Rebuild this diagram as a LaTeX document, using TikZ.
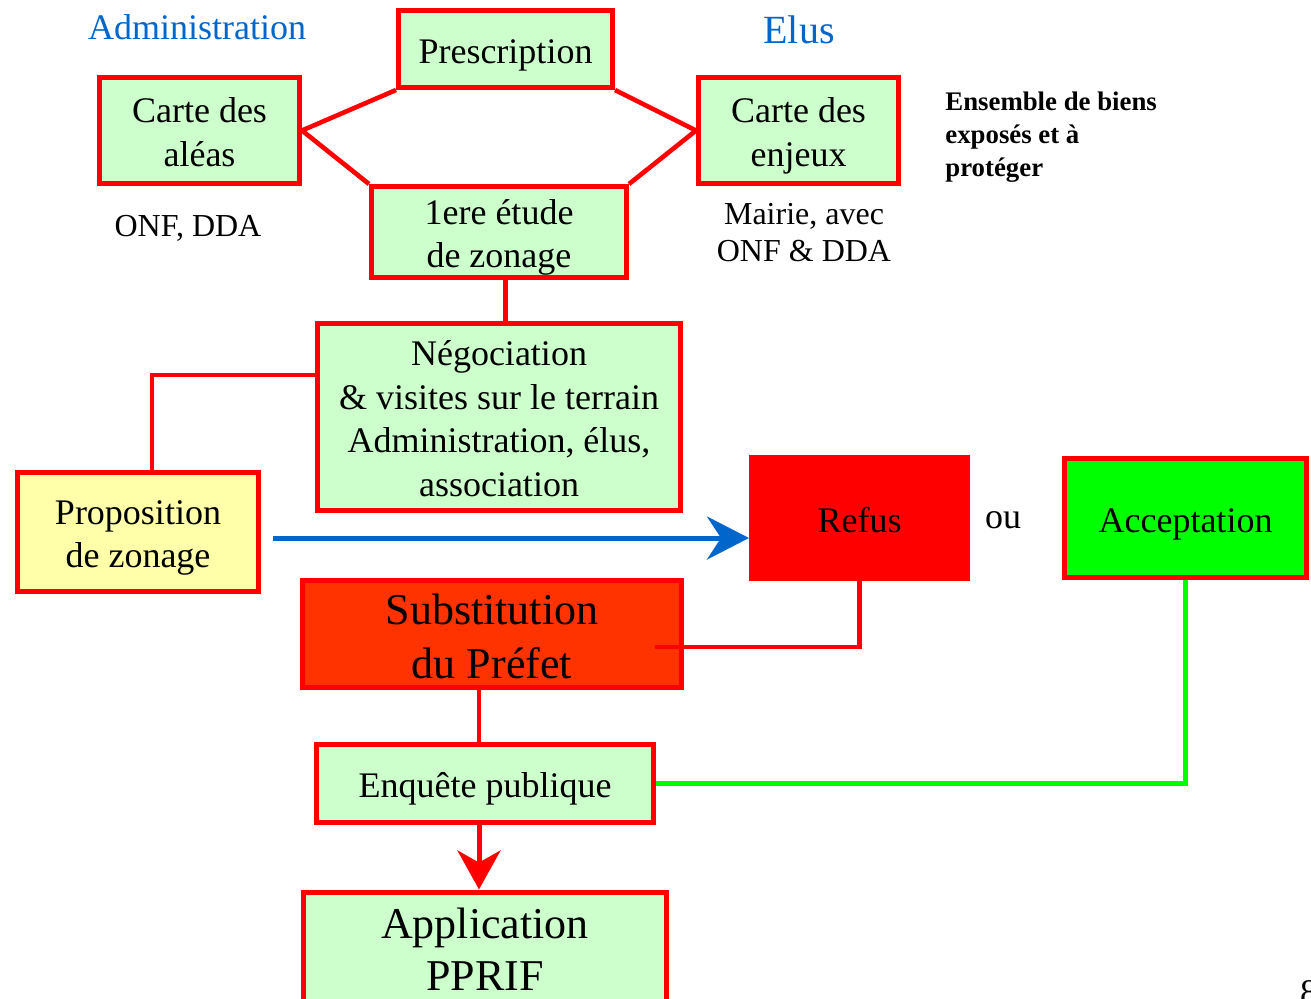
\documentclass[tikz,border=0pt]{standalone}
\usepackage{fontspec}
\setmainfont{Liberation Serif}
\usetikzlibrary{arrows.meta}
\definecolor{boxgreen}{HTML}{CCFFCC}
\definecolor{boxyellow}{HTML}{FFFFAA}
\definecolor{substred}{HTML}{FF3300}
\definecolor{accgreen}{HTML}{00FF00}
\definecolor{titleblue}{HTML}{0066CC}
\newcommand\boxstrut{\rule[-0.22em]{0pt}{1.22em}}
\tikzset{
  box/.style={draw=red, line width=2.5pt, fill=boxgreen, text=black, align=center,
    inner sep=0pt, font=\fontsize{18}{21.85}\selectfont,
    execute at end node=\boxstrut},
  conn/.style={draw=red, line width=2.3pt},
  greenconn/.style={draw=accgreen, line width=2.3pt},
  bluearrow/.style={draw=titleblue, line width=2.5pt,
    -{Stealth[length=21pt,width=21.5pt,inset=7pt]}},
  redarrow/.style={draw=red, line width=2.5pt,
    -{Stealth[length=19.5pt,width=21.5pt,inset=6pt]}},
  lbl/.style={align=center, inner sep=0pt, font=\fontsize{16}{18.5}\selectfont},
}
\begin{document}
\begin{tikzpicture}[x=0.5pt, y=-0.5pt]
\useasboundingbox (0,0) rectangle (1311,998);

% headings
\node[text=titleblue, inner sep=0pt, font=\fontsize{18}{21}\selectfont] (hadm) at (197,27) {Administration};
\node[text=titleblue, inner sep=0pt, font=\fontsize{20}{24}\selectfont] (helus) at (799,30) {Elus};

% boxes
\node[box, minimum width=107pt, minimum height=38.5pt] (presc) at (505.5,49) {\boxstrut Prescription};
\node[box, minimum width=100pt, minimum height=53pt] (aleas) at (199.5,130.5) {\boxstrut Carte des\\aléas};
\node[box, minimum width=100pt, minimum height=53pt] (enjeux) at (798.5,130.5) {\boxstrut Carte des\\enjeux};
\node[box, minimum width=127.5pt, minimum height=45.5pt] (etude) at (499,232) {\boxstrut 1ere étude\\de zonage};
\node[box, minimum width=181.5pt, minimum height=93.5pt] (nego) at (499,417) {\boxstrut Négociation\\\& visites sur le terrain\\Administration, élus,\\association};
\node[box, fill=boxyellow, minimum width=120.5pt, minimum height=59.5pt] (prop) at (138,532) {\boxstrut Proposition\\de zonage};
\node[box, fill=red, minimum width=108pt, minimum height=60.5pt] (refus) at (859.5,518) {\boxstrut Refus};
\node[box, fill=accgreen, minimum width=121pt, minimum height=59.5pt] (accept) at (1185.5,518) {\boxstrut Acceptation};
\node[box, fill=substred, minimum width=189.5pt, minimum height=53pt,
      font=\fontsize{22}{27}\selectfont] (subst) at (492,634) {\boxstrut Substitution\\du Préfet};
\node[box, minimum width=168.5pt, minimum height=39pt] (enq) at (485,783.5) {\boxstrut Enquête publique};
\node[box, minimum width=181.5pt, minimum height=55pt,
      font=\fontsize{22}{26}\selectfont] (appl) at (485,947) {\boxstrut Application\\PPRIF};

% side labels
\node[lbl] (onf) at (188,228) {ONF, DDA};
\node[lbl] (mairie) at (804,233) {Mairie, avec\\ONF \& DDA};
\node[anchor=north west, align=left, inner sep=0pt,
      font=\bfseries\fontsize{13.4}{16.5}\selectfont] (ens) at (945,91)
      {Ensemble de biens\\exposés et à\\protéger};
\node[inner sep=0pt, font=\fontsize{18}{21}\selectfont] (ou) at (1003,520) {ou};
\node[anchor=north, inner sep=0pt, font=\fontsize{18}{21}\selectfont] (pg) at (1309,980) {8};

% connectors
\coordinate (vx) at (479,0);
\coordinate (vy) at (505.5,0);
\draw[conn, line join=miter] (presc.south west) -- (aleas.east) -- (etude.north west);
\draw[conn, line join=miter] (presc.south east) -- (enjeux.west) -- (etude.north east);
\draw[conn] (etude.south -| vy) -- (nego.north -| vy);
\draw[conn] ([yshift=21pt]nego.west) -| ([xshift=7pt]prop.north);
\draw[bluearrow] ([xshift=6pt,yshift=-3pt]prop.east) -- ([yshift=-10pt]refus.west);
\draw[conn] (refus.south) |- ([xshift=-14.5pt,yshift=-6.5pt]subst.east);
\draw[conn] (subst.south -| vx) -- (enq.north -| vx);
\draw[greenconn] (accept.south) |- (enq.east);
\draw[redarrow] (enq.south -| vx) -- (appl.north -| vx);
\end{tikzpicture}
\end{document}
